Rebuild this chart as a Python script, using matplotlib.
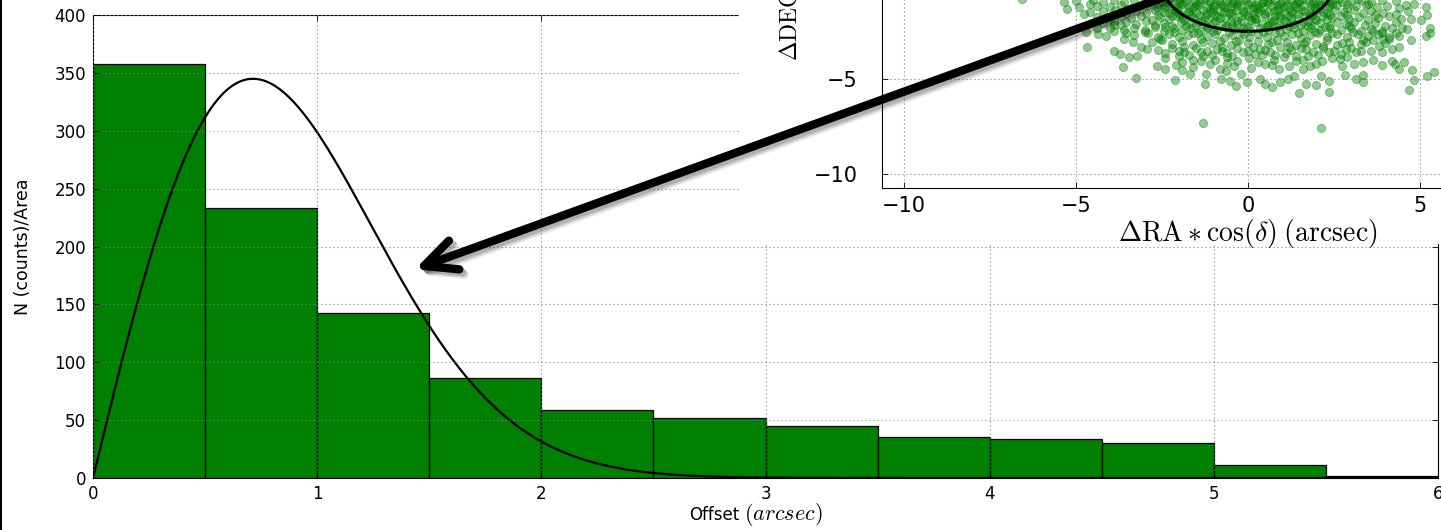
import numpy as np
import matplotlib
matplotlib.use("Agg")
import matplotlib.pyplot as plt
from matplotlib.patches import Circle, Rectangle, FancyArrowPatch
import matplotlib.patheffects as pe

plt.rcParams["font.family"] = ["DejaVu Sans"]
plt.rcParams["mathtext.fontset"] = "cm"

# ---- radial offset histogram (counts per unit area) ----
bin_edges = [0.0, 0.5, 1.0, 1.5, 2.0, 2.5, 3.0, 3.5, 4.0, 4.5, 5.0, 5.5, 6.0]
bin_counts = [358, 233, 142.5, 86.5, 59, 52, 45, 35.5, 34, 30.5, 10.8, 1.8]

# Rayleigh fit to the offset distribution
fit_sigma = 0.714
fit_norm = 406.0

x_ticks = [0, 1, 2, 3, 4, 5, 6]
y_ticks = [0, 50, 100, 150, 200, 250, 300, 350, 400]

# ---- positional offsets (arcsec) of matched sources ----
cloud_core = [
    (-5.0, -0.9), (-4.5, -0.85), (-4.2, -0.95), (-3.9, -0.88), (-3.6, -0.98), (-3.3, -0.86),
    (-3.0, -0.93), (-2.75, -0.87), (-2.5, -0.97), (-2.25, -0.9), (-2.0, -0.84), (-1.8, -0.96),
    (-1.55, -0.9), (-1.3, -0.86), (-1.1, -0.98), (-0.85, -0.9), (-0.6, -0.85), (-0.4, -0.95),
    (-0.15, -0.88), (0.1, -0.97), (0.3, -0.86), (0.55, -0.93), (0.8, -0.88), (1.0, -0.98),
    (1.25, -0.87), (1.5, -0.94), (1.75, -0.86), (2.0, -0.96), (2.25, -0.9), (2.5, -0.85),
    (2.75, -0.98), (3.0, -0.9), (3.3, -0.86), (3.6, -0.95), (3.9, -0.88), (4.3, -0.92),
    (-4.9, -1.2), (-4.4, -1.15), (-4.0, -1.25), (-3.7, -1.12), (-3.4, -1.28), (-3.15, -1.18),
    (-2.9, -1.1), (-2.65, -1.24), (-2.4, -1.15), (-2.15, -1.3), (-1.95, -1.12), (-1.7, -1.22),
    (-1.45, -1.14), (-1.2, -1.27), (-1.0, -1.17), (-0.75, -1.1), (-0.5, -1.25), (-0.3, -1.15),
    (-0.05, -1.3), (0.2, -1.12), (0.45, -1.22), (0.7, -1.15), (0.9, -1.28), (1.15, -1.13),
    (1.4, -1.24), (1.6, -1.16), (1.85, -1.29), (2.1, -1.12), (2.35, -1.22), (2.6, -1.14),
    (2.9, -1.26), (3.15, -1.16), (3.45, -1.1), (3.75, -1.25), (4.05, -1.18), (4.4, -1.3),
    (-4.2, -1.45), (-3.85, -1.38), (-3.55, -1.52), (-3.25, -1.42), (-2.95, -1.55), (-2.7, -1.4),
    (-2.45, -1.5), (-2.2, -1.36), (-2.0, -1.58), (-1.75, -1.44), (-1.5, -1.54), (-1.3, -1.38),
    (-1.05, -1.5), (-0.8, -1.42), (-0.55, -1.56), (-0.35, -1.36), (-0.1, -1.47), (0.15, -1.57),
    (0.35, -1.4), (0.6, -1.5), (0.85, -1.37), (1.05, -1.55), (1.3, -1.45), (1.55, -1.38),
    (1.8, -1.52), (2.0, -1.42), (2.3, -1.56), (2.55, -1.4), (2.8, -1.5), (3.1, -1.38),
    (3.35, -1.55), (3.6, -1.45), (3.95, -1.52), (4.3, -1.6),
    (-4.4, -1.75), (-4.05, -1.85), (-3.7, -1.7), (-3.4, -1.82), (-3.1, -1.68), (-2.8, -1.88),
    (-2.55, -1.74), (-2.3, -1.84), (-2.05, -1.7), (-1.85, -1.9), (-1.6, -1.76), (-1.4, -1.66),
    (-1.15, -1.86), (-0.9, -1.72), (-0.65, -1.82), (-0.45, -1.68), (-0.2, -1.88), (0.05, -1.74),
    (0.25, -1.84), (0.5, -1.7), (0.75, -1.88), (0.95, -1.76), (1.2, -1.68), (1.45, -1.84),
    (1.7, -1.72), (1.95, -1.86), (2.2, -1.7), (2.45, -1.8), (2.7, -1.68), (2.95, -1.86),
    (3.25, -1.74), (3.5, -1.9), (3.8, -1.78), (4.1, -1.7), (4.45, -1.85),
    (-2.35, -1.0), (-1.9, -1.05), (-1.4, -0.95), (-0.95, -1.05), (-0.45, -1.0), (0.0, -1.05),
    (0.45, -0.98), (0.95, -1.06), (1.4, -1.0), (1.9, -1.04), (2.4, -0.98),
    (-2.1, -1.45), (-1.6, -1.3), (-1.1, -1.4), (-0.6, -1.3), (-0.15, -1.42), (0.3, -1.28),
    (0.75, -1.45), (1.2, -1.32), (1.65, -1.46), (2.1, -1.3),
    (-1.9, -1.8), (-1.35, -1.95), (-0.8, -1.8), (-0.3, -1.95), (0.2, -1.82), (0.7, -1.96),
    (1.25, -1.8), (1.75, -1.95), (2.3, -1.85),
]

cloud_inner = [
    (-2.9, -0.82), (-2.6, -1.08), (-2.3, -0.83), (-2.05, -1.2), (-1.75, -0.82), (-1.5, -1.05),
    (-1.25, -0.8), (-1.0, -1.33), (-0.8, -1.02), (-0.55, -0.8), (-0.3, -1.05), (-0.05, -0.82),
    (0.2, -1.35), (0.4, -1.04), (0.65, -0.82), (0.85, -1.1), (1.1, -0.84), (1.35, -1.12),
    (1.6, -0.82), (1.85, -1.08), (2.1, -0.85), (2.35, -1.1), (2.65, -0.83), (2.9, -1.08),
    (3.2, -0.82), (3.5, -1.05),
    (-2.6, -1.62), (-2.3, -1.55), (-1.95, -1.6), (-1.65, -1.62), (-1.2, -1.6), (-0.95, -1.62),
    (-0.45, -1.55), (0.0, -1.62), (0.5, -1.6), (0.95, -1.62), (1.45, -1.58), (1.9, -1.62),
    (2.4, -1.62), (2.9, -1.62),
    (-2.4, -2.28), (-1.8, -2.22), (-1.2, -2.25), (-0.6, -2.2), (0.0, -2.27), (0.55, -2.22),
    (1.2, -2.24), (1.75, -2.2), (2.25, -2.26), (2.95, -2.22),
    (-3.5, -1.35), (-4.6, -1.05), (4.6, -1.1), (3.7, -1.65), (-3.9, -1.95), (4.5, -2.3),
    (-4.4, -2.3), (3.9, -2.6), (-3.6, -2.9), (-3.1, -3.3),
    (-2.45, -1.3), (-2.0, -1.0), (-1.55, -1.15), (-1.1, -0.9), (-0.7, -1.2), (-0.25, -0.95),
    (0.15, -1.2), (0.6, -1.0), (1.05, -1.2), (1.5, -0.9), (1.95, -1.2), (2.45, -1.05),
    (-2.2, -1.7), (-1.7, -1.5), (-1.25, -1.75), (-0.7, -1.5), (-0.2, -1.7), (0.3, -1.5),
    (0.8, -1.72), (1.3, -1.55), (1.8, -1.7), (2.2, -1.5),
    (-1.5, -2.15), (-0.95, -1.95), (-0.45, -2.15), (0.1, -1.92), (0.6, -2.15), (1.05, -1.95),
    (1.55, -2.15), (2.0, -1.9),
]

cloud_mid = [
    (-4.2, -2.05), (-3.9, -2.15), (-3.55, -2.0), (-3.25, -2.1), (-2.95, -1.98), (-2.7, -2.16),
    (-2.45, -2.04), (-2.2, -2.2), (-1.95, -2.0), (-1.7, -2.12), (-1.45, -2.02), (-1.25, -2.18),
    (-1.0, -2.06), (-0.75, -2.14), (-0.5, -1.98), (-0.3, -2.1), (-0.05, -2.2), (0.2, -2.0),
    (0.4, -2.12), (0.65, -2.04), (0.9, -2.18), (1.1, -1.98), (1.35, -2.1), (1.6, -2.02),
    (1.85, -2.16), (2.1, -2.04), (2.35, -2.2), (2.6, -2.0), (2.85, -2.12), (3.1, -2.02),
    (3.4, -2.16), (3.7, -2.06), (4.0, -2.2), (4.3, -2.0),
    (-4.0, -2.35), (-3.6, -2.45), (-3.3, -2.3), (-3.0, -2.42), (-2.7, -2.28), (-2.45, -2.48),
    (-2.15, -2.34), (-1.9, -2.44), (-1.65, -2.3), (-1.4, -2.46), (-1.15, -2.32), (-0.9, -2.42),
    (-0.65, -2.26), (-0.4, -2.4), (-0.15, -2.3), (0.1, -2.46), (0.35, -2.34), (0.6, -2.44),
    (0.85, -2.28), (1.1, -2.4), (1.35, -2.3), (1.6, -2.46), (1.85, -2.34), (2.1, -2.42),
    (2.4, -2.3), (2.7, -2.44), (3.0, -2.32), (3.3, -2.46), (3.6, -2.36), (3.9, -2.48), (4.2, -2.3),
    (-3.3, -2.7), (-2.9, -2.6), (-2.6, -2.78), (-2.3, -2.62), (-2.0, -2.82), (-1.75, -2.68),
    (-1.45, -2.58), (-1.2, -2.76), (-0.95, -2.64), (-0.7, -2.84), (-0.45, -2.7), (-0.2, -2.56),
    (0.05, -2.78), (0.3, -2.66), (0.55, -2.82), (0.8, -2.6), (1.05, -2.74), (1.3, -2.64),
    (1.55, -2.84), (1.8, -2.68), (2.05, -2.58), (2.3, -2.78), (2.6, -2.66), (2.9, -2.82),
    (3.2, -2.62), (3.5, -2.76), (3.8, -2.64), (4.1, -2.8),
    (-2.8, -3.05), (-2.5, -2.95), (-2.2, -3.15), (-1.9, -3.0), (-1.6, -3.2), (-1.35, -2.92),
    (-1.05, -3.1), (-0.8, -3.0), (-0.5, -3.22), (-0.25, -2.96), (0.0, -3.12), (0.3, -3.02),
    (0.6, -3.18), (0.85, -2.94), (1.15, -3.08), (1.4, -3.22), (1.7, -3.0), (2.0, -3.14),
    (2.3, -2.96), (2.6, -3.2), (2.95, -3.04), (3.3, -3.16), (3.65, -2.98), (4.0, -3.12),
    (-2.6, -3.5), (-2.2, -3.4), (-1.85, -3.58), (-1.5, -3.36), (-1.2, -3.52), (-0.9, -3.44),
    (-0.6, -3.62), (-0.3, -3.38), (0.0, -3.54), (0.35, -3.42), (0.65, -3.6), (0.95, -3.34),
    (1.25, -3.5), (1.55, -3.4), (1.9, -3.58), (2.2, -3.38), (2.5, -3.52), (2.85, -3.44), (3.6, -3.55),
    (-2.4, -3.9), (-2.0, -3.78), (-1.6, -3.98), (-1.3, -3.8), (-0.95, -4.0), (-0.6, -3.84),
    (-0.3, -4.05), (0.05, -3.9), (0.4, -3.76), (0.75, -4.02), (1.05, -3.86), (1.4, -4.08),
    (1.75, -3.82), (2.45, -3.92),
    (-2.1, -4.25), (-1.6, -4.35), (-1.1, -4.2), (-0.8, -4.45), (-0.4, -4.3), (0.1, -4.4),
    (0.5, -4.22), (0.9, -4.48), (1.2, -4.3),
]

cloud_outer = [
    (-3.0, -2.55), (-2.55, -2.9), (-2.15, -2.55), (-1.85, -3.3), (-1.6, -2.6), (-1.3, -3.05),
    (-1.0, -2.5), (-0.75, -3.3), (-0.55, -2.55), (-0.35, -3.0), (-0.1, -2.62), (0.15, -3.3),
    (0.45, -2.55), (0.7, -3.05), (0.95, -2.52), (1.2, -3.3), (1.45, -2.6), (1.65, -3.1),
    (1.95, -2.55), (2.2, -3.25), (2.45, -2.6), (2.75, -3.1), (3.05, -2.55), (3.35, -2.95),
    (3.65, -2.5), (3.95, -2.9), (4.3, -2.6),
    (-2.4, -3.65), (-2.0, -3.55), (-1.7, -3.75), (-1.35, -3.6), (-1.05, -3.75), (-0.75, -3.55),
    (-0.45, -3.78), (-0.15, -3.6), (0.2, -3.7), (0.5, -3.5), (0.8, -3.75), (1.1, -3.62),
    (1.4, -3.78), (1.7, -3.45), (2.05, -3.72), (2.35, -3.6), (2.7, -3.7), (3.0, -3.35),
    (3.3, -3.55), (3.9, -3.6), (4.4, -3.3),
    (-1.9, -4.1), (-1.35, -4.05), (-0.6, -4.15), (0.3, -4.1), (0.7, -4.28), (1.6, -4.0),
    (2.0, -4.2), (2.75, -4.3), (3.1, -4.2),
]

cloud_halo = [
    (-1.30, -7.32), (2.14, -7.58),
    (-6.56, -0.79), (-5.35, -0.96), (-5.27, -1.32), (-4.78, -1.58), (-4.6, -1.5), (-4.70, -2.54),
    (-4.68, -3.33), (-4.37, -2.63), (-4.13, -2.72), (-3.88, -2.46), (-3.69, -2.19), (-3.55, -2.6),
    (-3.34, -3.07), (-3.88, -3.54), (-3.73, -3.68), (-3.47, -3.86), (-3.23, -3.81), (-2.94, -3.42),
    (-3.63, -4.35), (-2.65, -4.30), (-3.26, -4.95),
    (-2.41, -4.47), (-2.12, -5.07), (-1.91, -4.51), (-1.67, -4.74), (-1.23, -4.74), (-1.25, -5.26),
    (-0.78, -5.0), (-0.62, -4.6), (-0.52, -5.09), (-0.33, -5.35), (-0.19, -4.74), (-0.02, -5.18),
    (0.35, -5.0), (0.49, -5.26), (0.70, -5.4), (0.93, -5.18), (1.17, -5.0), (1.35, -4.82),
    (1.49, -5.75), (1.70, -5.28), (1.99, -5.32), (2.36, -5.70), (2.36, -5.1), (2.14, -4.82),
    (2.82, -4.79), (3.15, -5.0), (3.36, -5.14), (3.34, -4.79), (3.36, -4.12), (3.64, -4.0),
    (3.92, -4.26), (4.21, -4.04), (4.29, -4.23), (4.41, -4.47), (4.55, -4.09), (4.77, -4.54),
    (4.70, -5.56), (4.84, -5.07), (5.21, -4.86), (5.43, -4.62), (4.75, -2.98), (4.62, -2.37),
    (5.18, -2.72), (5.31, -2.33), (5.31, -2.6), (5.03, -1.88), (5.22, -1.63), (5.18, -1.22),
    (4.75, -1.84), (4.65, -1.43), (4.84, -1.05),
    (4.21, -3.42), (4.41, -2.72), (4.12, -2.9), (3.83, -3.25), (3.44, -3.07), (3.15, -3.6),
    (2.9, -3.84), (2.67, -3.95), (2.17, -4.04), (1.8, -4.3), (1.6, -4.47),
]

inset_ticks = [-10, -5, 0, 5, 10]
match_radius = 2.5

# ---- figure ----
W, H = 1441, 530
fig = plt.figure(figsize=(W / 100, H / 100), dpi=100, facecolor="white")

grid_kw = dict(color="0.5", linestyle=(0, (1, 2.6)), linewidth=0.8)

ax = fig.add_axes([93 / W, (H - 478) / H, (1438 - 93) / W, (478 - 15) / H], zorder=0)
widths = np.diff(bin_edges)
ax.bar(bin_edges[:-1], bin_counts, width=widths, align="edge",
       color="#008000", edgecolor="black", linewidth=0.9)
r = np.linspace(0, 6, 600)
ax.plot(r, fit_norm * r / fit_sigma**2 * np.exp(-r**2 / (2 * fit_sigma**2)),
        color="black", linewidth=1.6)
ax.set_xlim(0, 6)
ax.set_ylim(0, 400)
ax.set_xticks(x_ticks)
ax.set_yticks(y_ticks)
ax.set_axisbelow(False)
ax.grid(True, **grid_kw)
ax.tick_params(direction="in", length=4, width=0.6, top=True, right=True,
               labelsize=12, pad=5)
for s in ax.spines.values():
    s.set_linewidth(0.8)
ax.set_ylabel("N (counts)/Area", fontsize=12.5, labelpad=16)

# x-axis title: plain word followed by the unit in math italics
fig.text(739 / W, (H - 520) / H, "Offset", fontsize=12, ha="right", va="baseline")
fig.text(744 / W, (H - 520) / H, r"$(arcsec)$", fontsize=16, ha="left", va="baseline")

# white backing behind the inset
fig.add_artist(Rectangle((739 / W, (H - 244) / H), 1 - 739 / W, 244 / H,
                         transform=fig.transFigure, facecolor="white",
                         edgecolor="none", zorder=1))
# thin dark border on the left edge
fig.add_artist(Rectangle((0, 0), 2 / W, 1, transform=fig.transFigure,
                         facecolor="black", edgecolor="none", zorder=5))

# ---- inset: offsets on the sky ----
xl = (-10.66, 10.66)
yl = (-10.7, 10.7)
px_x = 34.36
px_y = 19.07
in_w = (xl[1] - xl[0]) * px_x
in_h = (yl[1] - yl[0]) * px_y
axi = fig.add_axes([881.5 / W, (H - 187.7) / H, in_w / W, in_h / H], zorder=2)
pts = np.array(cloud_core + cloud_inner + cloud_mid + cloud_outer + cloud_halo)
axi.scatter(pts[:, 0], pts[:, 1], s=34, c="#008000", alpha=0.42,
            edgecolors="#008000", linewidths=0.7)
axi.add_patch(Circle((0, 0), match_radius, fill=False, edgecolor="black", linewidth=2.2))
axi.set_xlim(*xl)
axi.set_ylim(*yl)
axi.set_xticks(inset_ticks)
axi.set_yticks(inset_ticks)
axi.set_axisbelow(False)
axi.grid(True, **grid_kw)
axi.tick_params(direction="in", length=4, width=0.6, top=True, right=True,
                labelsize=15, pad=6)
axi.tick_params(axis="y", pad=17)
for s in axi.spines.values():
    s.set_linewidth(0.8)
axi.set_xlabel(r"$\Delta\mathrm{RA}\ast\cos(\delta)\;(\mathrm{arcsec})$", fontsize=20, labelpad=0.5)
axi.set_ylabel(r"$\Delta\mathrm{DEC}\,(\mathrm{arcsec})$", fontsize=17, labelpad=6)

# ---- arrow linking the circled region to the histogram ----
tip = (415 / W, (H - 269.2) / H)
tail = (1184 / W, (H + 10) / H)
arrow = FancyArrowPatch(tail, tip, transform=fig.transFigure,
                        arrowstyle="->,head_length=23,head_width=11",
                        mutation_scale=1, linewidth=6, color="black",
                        capstyle="round", joinstyle="round",
                        shrinkA=0, shrinkB=0, zorder=4)
arrow.set_path_effects([
    pe.SimpleLineShadow(offset=(4, -4), shadow_color="black", alpha=0.08),
    pe.SimpleLineShadow(offset=(3, -3), shadow_color="black", alpha=0.12),
    pe.SimpleLineShadow(offset=(2, -2), shadow_color="black", alpha=0.15),
    pe.Normal(),
])
fig.add_artist(arrow)

fig.savefig("out.png", dpi=100, facecolor="white")
